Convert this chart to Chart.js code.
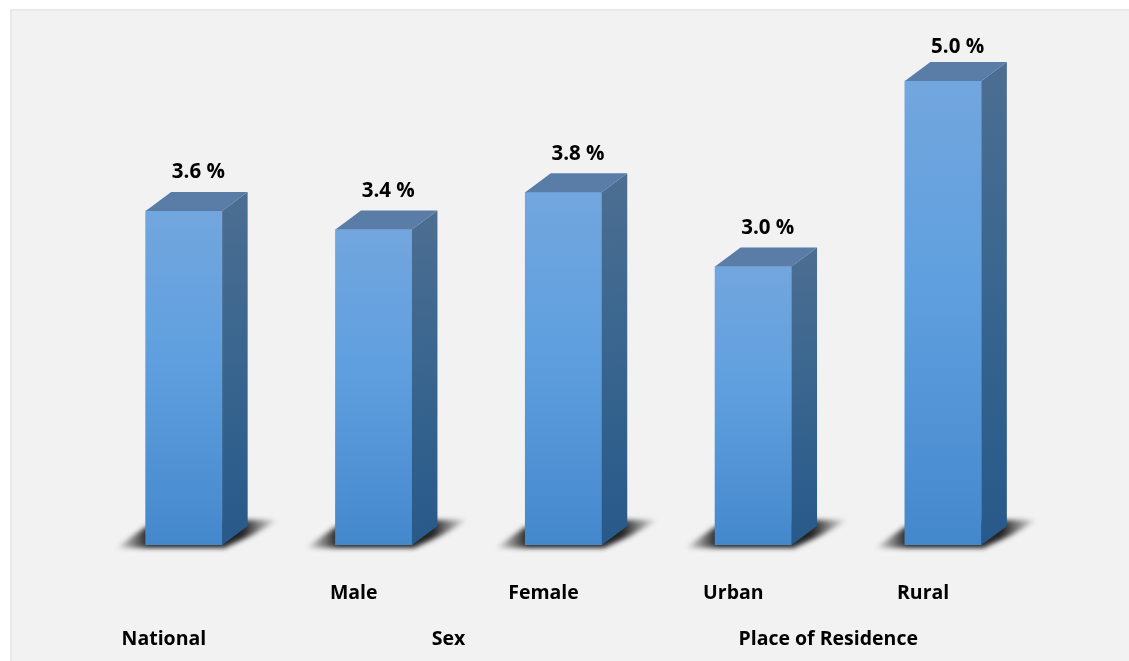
<!DOCTYPE html>
<html>
<head>
<meta charset="utf-8">
<title>Prevalence by group</title>
<script src="https://cdn.jsdelivr.net/npm/chart.js@4"></script>
<style>
  html, body { margin: 0; background: #fff; }
  canvas { display: block; }
</style>
</head>
<body>
<canvas id="chart" width="1129" height="661"></canvas>
<script>
// Values
const categories = ["", "Male", "Female", "Urban", "Rural"];
const values = [3.6, 3.4, 3.8, 3.0, 5.0];
const groupNames = ["National", "Sex", "Place of Residence"];
const groupFirst = [0, 1, 3];
const groupLast = [0, 2, 4];

const FONT = "'Open Sans', Lato, sans-serif";
const FONT_SIZE = 19.5;
const VALUE_FONT_SIZE = 20.5;
const DEPTH_X = 25.5;
const DEPTH_Y = 19;
const LABEL_SHIFT = -20; // category labels sit left of the bars

// grey panel behind the chart
const panel = {
  id: "panel",
  beforeDraw(chart) {
    const c = chart.ctx;
    c.save();
    c.fillStyle = "#ffffff";
    c.fillRect(0, 0, chart.width, chart.height);
    c.fillStyle = "#e9e9e9";
    c.fillRect(10, 9, chart.width - 10, chart.height - 9);
    c.fillStyle = "#f2f2f2";
    c.fillRect(12, 11, chart.width - 12, chart.height - 11);
    c.restore();
  },
};

// soft shadow on the floor under each bar
const floorShadow = {
  id: "floorShadow",
  beforeDatasetsDraw(chart) {
    const c = chart.ctx;
    chart.getDatasetMeta(0).data.forEach(bar => {
      const left = bar.x - bar.width / 2;
      const right = bar.x + bar.width / 2;
      const base = bar.base;
      const fade = c.createLinearGradient(left - 30, 0, right + 56, 0);
      fade.addColorStop(0, "rgba(35,35,35,0)");
      fade.addColorStop(0.2, "rgba(35,35,35,1)");
      fade.addColorStop(0.78, "rgba(35,35,35,1)");
      fade.addColorStop(1, "rgba(35,35,35,0)");
      c.save();
      c.filter = "blur(2.5px)";
      c.fillStyle = fade;
      c.beginPath();
      c.moveTo(left - 30, base + 3);
      c.lineTo(right + 2, base + 3);
      c.lineTo(right + 30, base - 10);
      c.lineTo(right + 56, base - 25);
      c.lineTo(right + 14, base - 25);
      c.lineTo(left, base - 18);
      c.closePath();
      c.fill();
      c.restore();
    });
  },
};

// fake 3D: top and side faces, then the value labels
const depthFaces = {
  id: "depthFaces",
  afterDatasetsDraw(chart) {
    const c = chart.ctx;
    chart.getDatasetMeta(0).data.forEach((bar, i) => {
      const left = bar.x - bar.width / 2;
      const right = bar.x + bar.width / 2;
      const top = bar.y;
      const base = bar.base;

      c.save();
      c.fillStyle = "#5a7da8";
      c.beginPath();
      c.moveTo(left, top);
      c.lineTo(left + DEPTH_X, top - DEPTH_Y);
      c.lineTo(right + DEPTH_X, top - DEPTH_Y);
      c.lineTo(right, top);
      c.closePath();
      c.fill();

      const side = c.createLinearGradient(right, top - DEPTH_Y, right + DEPTH_X, base);
      side.addColorStop(0, "#4d6e92");
      side.addColorStop(0.45, "#3a668f");
      side.addColorStop(1, "#27598a");
      c.fillStyle = side;
      c.beginPath();
      c.moveTo(right, top);
      c.lineTo(right + DEPTH_X, top - DEPTH_Y);
      c.lineTo(right + DEPTH_X, base - DEPTH_Y);
      c.lineTo(right, base);
      c.closePath();
      c.fill();

      c.fillStyle = "#000";
      c.font = "bold " + VALUE_FONT_SIZE + "px " + FONT;
      c.textAlign = "center";
      c.textBaseline = "middle";
      c.fillText(values[i].toFixed(1) + " %", bar.x + 14.5, Math.max(top - 38.5, 47));
      c.restore();
    });
  },
};

// second row of the axis: the group names
const groupLabels = {
  id: "groupLabels",
  afterDraw(chart) {
    const c = chart.ctx;
    const x = chart.scales.x;
    c.save();
    c.fillStyle = "#000";
    c.font = "bold " + FONT_SIZE + "px " + FONT;
    c.textAlign = "center";
    c.textBaseline = "middle";
    groupNames.forEach((name, i) => {
      const mid = (x.getPixelForValue(groupFirst[i]) + x.getPixelForValue(groupLast[i])) / 2;
      c.fillText(name, mid + LABEL_SHIFT, 639);
    });
    c.restore();
  },
};

const ctx = document.getElementById("chart").getContext("2d");
new Chart(ctx, {
  type: "bar",
  data: {
    labels: categories,
    datasets: [
      {
        data: values,
        barThickness: 76.5,
        backgroundColor: (item) => {
          const { ctx: c, scales } = item.chart;
          const yTop = scales.y ? scales.y.getPixelForValue(item.raw) : NaN;
          const yBase = scales.y ? scales.y.getPixelForValue(0) : NaN;
          if (!Number.isFinite(yTop) || !Number.isFinite(yBase)) return "#5f9fdf";
          const g = c.createLinearGradient(0, yTop, 0, yBase);
          g.addColorStop(0, "#72a6de");
          g.addColorStop(0.45, "#5f9fdf");
          g.addColorStop(1, "#4488cc");
          return g;
        },
        borderWidth: 0,
      },
    ],
  },
  options: {
    responsive: false,
    animation: false,
    layout: { padding: { left: 89, right: 91, top: 34.6, bottom: 0 } },
    plugins: { legend: { display: false }, tooltip: { enabled: false } },
    scales: {
      x: {
        grid: { display: false },
        border: { display: false },
        afterFit: (scale) => { scale.height = 116; },
        ticks: {
          color: "#000",
          font: { family: FONT, size: FONT_SIZE, weight: "bold" },
          padding: 28.5,
          labelOffset: LABEL_SHIFT,
          maxRotation: 0,
          autoSkip: false,
        },
      },
      y: {
        display: false,
        min: 0,
        max: 5.5,
      },
    },
  },
  plugins: [panel, floorShadow, depthFaces, groupLabels],
});
</script>
</body>
</html>
